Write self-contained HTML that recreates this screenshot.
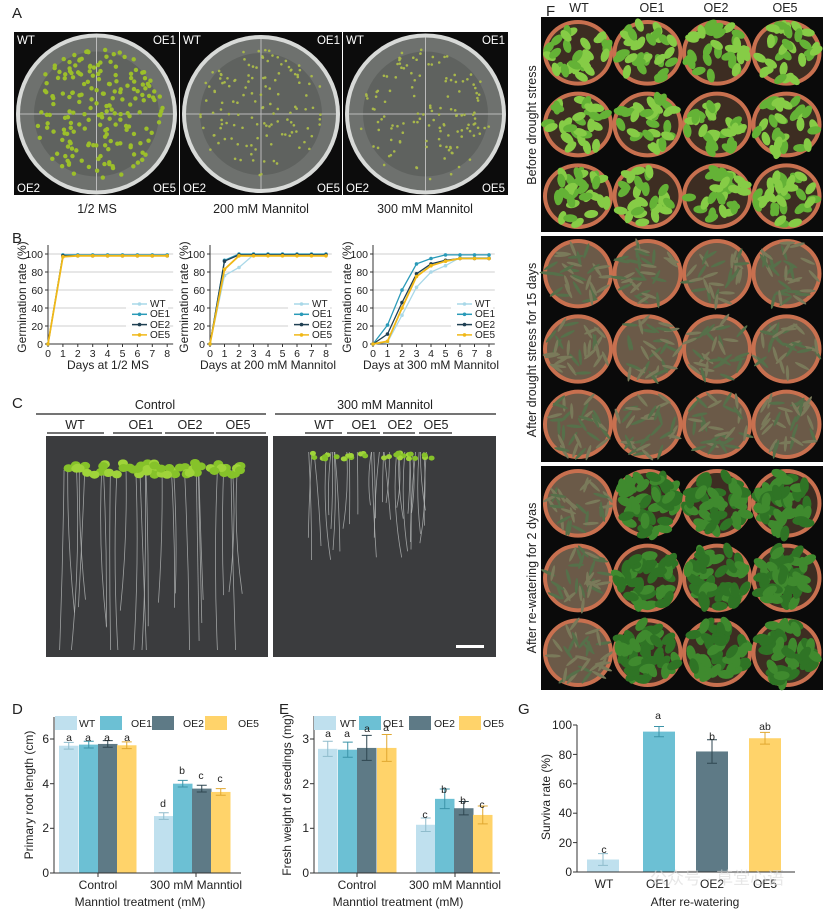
<!DOCTYPE html>
<html><head><meta charset="utf-8"><style>
html,body{margin:0;padding:0;background:#fff}
svg{display:block}
text{font-family:"Liberation Sans","Noto Sans CJK SC",sans-serif;fill:#222}
</style></head><body>
<svg id="s" width="827" height="910" viewBox="0 0 827 910" xmlns="http://www.w3.org/2000/svg">
<g id="photos"></g>
<g id="charts"></g>
<text x="12" y="18" font-size="15">A</text>
<text x="12" y="243" font-size="15">B</text>
<text x="12" y="408" font-size="15">C</text>
<text x="12" y="714" font-size="15">D</text>
<text x="279" y="714" font-size="15">E</text>
<text x="518" y="714" font-size="15">G</text>
<text x="546" y="16" font-size="15">F</text>
<g font-size="11.5">
<text x="17" y="44" style="fill:#fff">WT</text><text x="176" y="44" text-anchor="end" style="fill:#fff">OE1</text>
<text x="17" y="192" style="fill:#fff">OE2</text><text x="176" y="192" text-anchor="end" style="fill:#fff">OE5</text>
<text x="183" y="44" style="fill:#fff">WT</text><text x="340" y="44" text-anchor="end" style="fill:#fff">OE1</text>
<text x="183" y="192" style="fill:#fff">OE2</text><text x="340" y="192" text-anchor="end" style="fill:#fff">OE5</text>
<text x="346" y="44" style="fill:#fff">WT</text><text x="505" y="44" text-anchor="end" style="fill:#fff">OE1</text>
<text x="346" y="192" style="fill:#fff">OE2</text><text x="505" y="192" text-anchor="end" style="fill:#fff">OE5</text>
</g>
<g font-size="12.5" text-anchor="middle">
<text x="97" y="213">1/2 MS</text><text x="261" y="213">200 mM Mannitol</text><text x="425" y="213">300 mM Mannitol</text>
</g>
<g font-size="12.5" text-anchor="middle">
<text x="155" y="409">Control</text><text x="385" y="409">300 mM Mannitol</text>
<text x="75" y="429">WT</text><text x="141" y="429">OE1</text><text x="190" y="429">OE2</text><text x="238" y="429">OE5</text>
<text x="324" y="429">WT</text><text x="364" y="429">OE1</text><text x="400" y="429">OE2</text><text x="436" y="429">OE5</text>
</g>
<g stroke="#222" stroke-width="1.2">
<line x1="36" y1="414" x2="266" y2="414"/><line x1="275" y1="414" x2="496" y2="414"/>
<line x1="47" y1="433" x2="104" y2="433"/><line x1="113" y1="433" x2="162" y2="433"/><line x1="165" y1="433" x2="214" y2="433"/><line x1="216" y1="433" x2="266" y2="433"/>
<line x1="305" y1="433" x2="342" y2="433"/><line x1="347" y1="433" x2="380" y2="433"/><line x1="383" y1="433" x2="415" y2="433"/><line x1="419" y1="433" x2="452" y2="433"/>
</g>
<g font-size="12.5" text-anchor="middle">
<text x="579" y="12">WT</text><text x="652" y="12">OE1</text><text x="716" y="12">OE2</text><text x="785" y="12">OE5</text>
<text transform="translate(536,125) rotate(-90)">Before drought stress</text>
<text transform="translate(536,350) rotate(-90)">After drought stress for 15 days</text>
<text transform="translate(536,578) rotate(-90)">After re-watering for 2 dyas</text>
</g>
<g font-size="10.5" text-anchor="end">
<text x="43" y="348">0</text><text x="43" y="330">20</text><text x="43" y="312">40</text><text x="43" y="294">60</text><text x="43" y="276">80</text><text x="43" y="258">100</text>
<text x="205" y="348">0</text><text x="205" y="330">20</text><text x="205" y="312">40</text><text x="205" y="294">60</text><text x="205" y="276">80</text><text x="205" y="258">100</text>
<text x="368" y="348">0</text><text x="368" y="330">20</text><text x="368" y="312">40</text><text x="368" y="294">60</text><text x="368" y="276">80</text><text x="368" y="258">100</text>
</g>
<g font-size="10.5" text-anchor="middle" id="bx"></g>
<g font-size="12" text-anchor="middle">
<text x="108" y="369">Days at 1/2 MS</text><text x="268" y="369">Days at 200 mM Mannitol</text><text x="431" y="369">Days at 300 mM Mannitol</text>
<text transform="translate(26,297) rotate(-90)">Germination rate (%)</text>
<text transform="translate(188,297) rotate(-90)">Germination rate (%)</text>
<text transform="translate(351,297) rotate(-90)">Germination rate (%)</text>
</g>
<g font-size="10">
<text x="150" y="307">WT</text><text x="150" y="317">OE1</text><text x="150" y="328">OE2</text><text x="150" y="338">OE5</text>
<text x="312" y="307">WT</text><text x="312" y="317">OE1</text><text x="312" y="328">OE2</text><text x="312" y="338">OE5</text>
<text x="475" y="307">WT</text><text x="475" y="317">OE1</text><text x="475" y="328">OE2</text><text x="475" y="338">OE5</text>
</g>
<g font-size="12" text-anchor="end">
<text x="49" y="877">0</text><text x="49" y="832">2</text><text x="49" y="788">4</text><text x="49" y="743">6</text>
<text x="309" y="877">0</text><text x="309" y="832">1</text><text x="309" y="788">2</text><text x="309" y="743">3</text>
<text x="572" y="876">0</text><text x="572" y="847">20</text><text x="572" y="817">40</text><text x="572" y="788">60</text><text x="572" y="759">80</text><text x="572" y="729">100</text>
</g>
<g font-size="12" text-anchor="middle">
<text x="98" y="889">Control</text><text x="196" y="889">300 mM Manntiol</text>
<text x="140" y="906">Manntiol treatment (mM)</text>
<text transform="translate(33,795) rotate(-90)">Primary root length (cm)</text>
<text x="357" y="889">Control</text><text x="455" y="889">300 mM Manntiol</text>
<text x="398" y="906">Manntiol treatment (mM)</text>
<text transform="translate(291,795) rotate(-90)">Fresh weight of seedings (mg)</text>
<text x="604" y="888">WT</text><text x="658" y="888">OE1</text><text x="712" y="888">OE2</text><text x="765" y="888">OE5</text>
<text x="695" y="906">After re-watering</text>
<text transform="translate(550,797) rotate(-90)">Surviva rate (%)</text>
</g>
<g font-size="10.5">
<text x="79" y="727">WT</text><text x="131" y="727">OE1</text><text x="183" y="727">OE2</text><text x="238" y="727">OE5</text>
<text x="340" y="727">WT</text><text x="383" y="727">OE1</text><text x="434" y="727">OE2</text><text x="483" y="727">OE5</text>
</g>
<g font-size="10.5" text-anchor="middle">
<text x="69" y="741">a</text><text x="88" y="741">a</text><text x="107" y="741">a</text><text x="127" y="741">a</text>
<text x="163" y="807">d</text><text x="182" y="774">b</text><text x="201" y="779">c</text><text x="220" y="782">c</text>
<text x="328" y="737">a</text><text x="347" y="737">a</text><text x="367" y="732">a</text><text x="386" y="731">a</text>
<text x="425" y="818">c</text><text x="444" y="793">b</text><text x="463" y="804">b</text><text x="482" y="808">c</text>
<text x="604" y="853">c</text><text x="658" y="719">a</text><text x="712" y="740">b</text><text x="765" y="730">ab</text>
</g>
<text x="650" y="884" font-size="17" style="fill:#d8d8d8;opacity:.6">公众号 · 草堂心语</text>
</svg>
<script>
(function(){
var NS="http://www.w3.org/2000/svg";
var P=document.getElementById('photos'),C=document.getElementById('charts');
function el(g,t,a){var e=document.createElementNS(NS,t);for(var k in a)e.setAttribute(k,a[k]);g.appendChild(e);return e;}
var seed=7;function r(){seed=(seed*16807)%2147483647;return seed/2147483647;}
var dishes=[[14,179],[180,342],[343,508]];
dishes.forEach(function(d,i){
 el(P,'rect',{x:d[0],y:32,width:d[1]-d[0],height:163,fill:'#0c0c0c'});
 var cx=(d[0]+d[1])/2,cy=114,rr=(d[1]-d[0])/2-2;
 el(P,'circle',{cx:cx,cy:cy,r:rr,fill:'#d8dad8'});
 el(P,'circle',{cx:cx,cy:cy,r:rr-4,fill:'#6e716e'});
 el(P,'circle',{cx:cx,cy:cy,r:rr-18,fill:'#5f625f'});
 el(P,'line',{x1:cx-rr+4,y1:cy,x2:cx+rr-4,y2:cy,stroke:'#bbb','stroke-width':1});
 el(P,'line',{x1:cx,y1:cy-rr+4,x2:cx,y2:cy+rr-4,stroke:'#bbb','stroke-width':1});
 var n=i==0?200:130,sz=i==0?2.2:1.3;
 for(var k=0;k<n;k++){var a=r()*6.283,q=Math.sqrt(r())*(rr-14);
  el(P,'circle',{cx:cx+Math.cos(a)*q,cy:cy+Math.sin(a)*q,r:sz,fill:i==0?'#9cbf2a':'#a8b84a'});}
});
[[46,268,1],[273,496,0]].forEach(function(d){
 el(P,'rect',{x:d[0],y:436,width:d[1]-d[0],height:221,fill:'#3b3c3e'});
 var ctl=d[2],n=ctl?26:30;
 for(var k=0;k<n;k++){var x=d[0]+(ctl?18:35)+r()*((d[1]-d[0])-(ctl?40:95));
  var y0=ctl?470:452,L=ctl?Math.min(120+r()*100,180):50+r()*60;
  el(P,'path',{d:'M'+x+' '+y0+' q'+(r()*10-5)+' '+L/2+' '+(r()*14-7)+' '+L,stroke:'#b9bcbc','stroke-width':0.8,fill:'none',opacity:0.8});}
 for(var k=0;k<(ctl?60:30);k++){var x=d[0]+(ctl?22:38)+r()*((d[1]-d[0])-(ctl?48:100));
  el(P,'ellipse',{cx:x,cy:(ctl?463:453)+r()*(ctl?12:6),rx:ctl?5:3,ry:ctl?4:2.5,fill:r()<.5?'#9fd43a':'#86c22a'});}
});
el(P,'rect',{x:456,y:645,width:28,height:3,fill:'#fff'});
var blocks=[[17,232,0],[236,462,1],[466,690,2]];
blocks.forEach(function(b){
 el(P,'rect',{x:541,y:b[0],width:282,height:b[1]-b[0],fill:'#0a0a0a'});
 var h=(b[1]-b[0])/3;
 for(var row=0;row<3;row++)for(var col=0;col<4;col++){
  var cx=578+col*69.5,cy=b[0]+h*row+h/2,rx=35,ry=h/2-3;
  el(P,'ellipse',{cx:cx,cy:cy,rx:rx,ry:ry,fill:'#c8704f'});
  var dead=(b[2]==1)||(b[2]==2&&col==0);
  el(P,'ellipse',{cx:cx,cy:cy,rx:rx-4,ry:ry-4,fill:dead?'#6b5a48':'#3d2d22'});
  var n=b[2]==0?30:(dead?30:45);
  for(var k=0;k<n;k++){var a=r()*6.283,q=Math.sqrt(r())*(rx-4);
   var col2=b[2]==0?(r()<.5?'#86cc46':'#64b236'):(dead?(r()<.5?'#56704a':'#7a7a5a'):(r()<.5?'#3f8a2e':'#2f7425'));
   var px=cx+Math.cos(a)*q,py=cy+Math.sin(a)*q*ry/rx;
   el(P,'ellipse',{cx:px,cy:py,rx:dead?8:(b[2]==0?7:8),ry:dead?1.6:(b[2]==0?4:4.5),fill:col2,transform:'rotate('+(r()*180)+' '+px+' '+py+')'});}
 }
});
var cols={WT:'#a9d8e8',OE1:'#2a9ab8',OE2:'#1f3f52',OE5:'#f0b818'};
var data=[
 {WT:[0,97,98,98,98,98,98,98,98],OE1:[0,99,99,99,99,99,99,99,99],OE2:[0,98,98,98,98,98,98,98,98],OE5:[0,97,98,98,98,98,98,98,98]},
 {WT:[0,76,85,99,99,99,99,99,99],OE1:[0,93,100,100,100,100,100,100,100],OE2:[0,92,99,99,99,99,99,99,99],OE5:[0,83,98,98,98,98,98,98,98]},
 {WT:[0,2,32,63,80,87,96,96,96],OE1:[0,21,60,89,95,99,99,99,99],OE2:[0,11,46,78,89,93,95,95,95],OE5:[0,3,40,75,87,92,95,95,95]}];
var x0s=[48,210,373],dxs=[14.9,14.5,14.5],bx=document.getElementById('bx');
x0s.forEach(function(x0,i){var dx=dxs[i];
 for(var g=20;g<=100;g+=20)el(C,'line',{x1:x0,x2:x0+8.4*dx,y1:344-g*0.9,y2:344-g*0.9,stroke:'#cfcfcf','stroke-width':1});
 el(C,'path',{d:'M'+x0+' 245 V344 H'+(x0+8.4*dx),stroke:'#333','stroke-width':1,fill:'none'});
 for(var g=0;g<=100;g+=20)el(C,'line',{x1:x0-3,x2:x0,y1:344-g*0.9,y2:344-g*0.9,stroke:'#333'});
 for(var d=0;d<=8;d++){el(C,'line',{x1:x0+d*dx,x2:x0+d*dx,y1:344,y2:347,stroke:'#333'});
  var t=document.createElementNS(NS,'text');t.setAttribute('x',x0+d*dx);t.setAttribute('y',357);t.textContent=d;bx.appendChild(t);}
 ['WT','OE1','OE2','OE5'].forEach(function(k,j){var pts=data[i][k].map(function(v,d){return (x0+d*dx)+','+(344-v*0.9)}).join(' ');
  el(C,'polyline',{points:pts,fill:'none',stroke:cols[k],'stroke-width':k=='OE5'?1.8:1.3});
  data[i][k].forEach(function(v,d){el(C,'circle',{cx:x0+d*dx,cy:344-v*0.9,r:1.8,fill:cols[k]})});
  var ly=304+j*10.3;
  el(C,'rect',{x:x0+78,y:ly-5,width:42,height:10,fill:'#fff',opacity:0.9});
  el(C,'line',{x1:x0+84,x2:x0+99,y1:ly,y2:ly,stroke:cols[k],'stroke-width':1.5});
  el(C,'circle',{cx:x0+91.5,cy:ly,r:1.8,fill:cols[k]});
 });
});
var bc=['#bfe0ee','#6cc0d4','#5e7a86','#ffd36a'],ec=['#8fbccc','#3b93a8','#2e4650','#e0a830'];
function bars(xs,vals,errs,y0,sc,w){xs.forEach(function(x,i){var c=i%4;
 el(C,'rect',{x:x,y:y0-vals[i]*sc,width:w,height:vals[i]*sc,fill:bc[c]});
 var cx=x+w/2,t=y0-(vals[i]+errs[i])*sc,b=y0-(vals[i]-errs[i])*sc;
 el(C,'path',{d:'M'+cx+' '+t+'V'+b+'M'+(cx-5)+' '+t+'H'+(cx+5)+'M'+(cx-5)+' '+b+'H'+(cx+5),stroke:ec[c],'stroke-width':1,fill:'none'});});}
function axis(x0,x1,y0,ytop,ticks){el(C,'path',{d:'M'+x0+' '+ytop+'V'+y0+'H'+x1,stroke:'#333',fill:'none','stroke-width':1});
 ticks.forEach(function(y){el(C,'line',{x1:x0-4,x2:x0,y1:y,y2:y,stroke:'#333'})});}
bars([59,79,98,117,154,173,192,211],[5.7,5.75,5.78,5.72,2.55,4.0,3.78,3.63],[.15,.15,.15,.15,.15,.15,.15,.15],873,22.33,19.5);
axis(54,241,873,717,[873,828.3,783.7,739]);
el(C,'line',{x1:98,x2:98,y1:873,y2:877,stroke:'#333'});el(C,'line',{x1:196,x2:196,y1:873,y2:877,stroke:'#333'});
[[55,bc[0]],[100,bc[1]],[152,bc[2]],[205,bc[3]]].forEach(function(a){el(C,'rect',{x:a[0],y:716,width:22,height:14,fill:a[1]})});
bars([318,338,357,377,416,435,454,473],[2.78,2.76,2.8,2.8,1.08,1.66,1.45,1.3],[.17,.17,.28,.3,.15,.22,.15,.2],873,44.67,19.5);
axis(314,500,873,716,[873,828.3,783.7,739]);
el(C,'line',{x1:357,x2:357,y1:873,y2:877,stroke:'#333'});el(C,'line',{x1:455,x2:455,y1:873,y2:877,stroke:'#333'});
[[314,bc[0]],[359,bc[1]],[409,bc[2]],[459,bc[3]]].forEach(function(a){el(C,'rect',{x:a[0],y:716,width:22,height:14,fill:a[1]})});
bars([587,643,696,749],[8.5,95.5,82,91],[4,3.5,8,4],872,1.47,32);
axis(577,795,872,725,[872,842.6,813.2,783.8,754.4,725]);
})();
</script>
</body></html>
